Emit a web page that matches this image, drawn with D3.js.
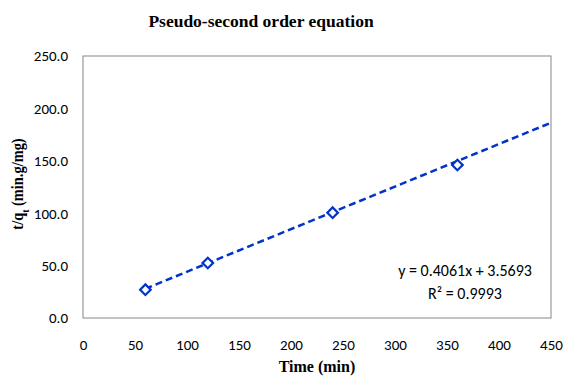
<!DOCTYPE html>
<html>
<head>
<meta charset="utf-8">
<script src="https://cdn.jsdelivr.net/npm/d3@7"></script>
<style>
  body { margin: 0; background: #fff; }
  .tick-label { font-family: Carlito, "Liberation Sans", sans-serif; font-size: 15px; fill: #000; }
</style>
</head>
<body>
<div id="chart"></div>
<script>
// data
const timeMin = [60, 120, 240, 360];
const tOverQt = [27.0, 52.5, 100.5, 146.0];
const xTicks = [0, 50, 100, 150, 200, 250, 300, 350, 400, 450];
const yTicks = [0, 50, 100, 150, 200, 250];
const slope = 0.4061, intercept = 3.5693;
const trendRange = [60, 450];

function drawChart() {
  const W = 566, H = 376;
  const margin = {top: 56, right: 15, bottom: 58, left: 83};
  const width = W - margin.left - margin.right,
        height = H - margin.top - margin.bottom;

  const svg = d3.select("#chart").append("svg")
    .attr("width", W).attr("height", H);

  const g = svg.append("g")
    .attr("transform", `translate(${margin.left},${margin.top})`);

  const x = d3.scaleLinear().domain([0, 450]).range([0, width]);
  const y = d3.scaleLinear().domain([0, 250]).range([height, 0]);

  // plot border
  g.append("rect")
    .attr("x", 0).attr("y", 0)
    .attr("width", width).attr("height", height)
    .attr("fill", "none").attr("stroke", "#868686").attr("stroke-width", 1);

  // axes (labels only, no tick marks)
  g.append("g")
    .attr("transform", `translate(0,${height})`)
    .call(d3.axisBottom(x).tickValues(xTicks).tickSize(0).tickPadding(21).tickFormat(d3.format("d")))
    .call(s => s.select(".domain").remove())
    .selectAll("text").attr("class", "tick-label");

  g.append("g")
    .call(d3.axisLeft(y).tickValues(yTicks).tickSize(0).tickPadding(15).tickFormat(d3.format(".1f")))
    .call(s => s.select(".domain").remove())
    .selectAll("text").attr("class", "tick-label");

  // trend line
  const trend = trendRange.map(t => [t, slope * t + intercept]);
  g.append("path")
    .datum(trend)
    .attr("fill", "none")
    .attr("stroke", "#0033CC")
    .attr("stroke-width", 2.5)
    .attr("stroke-dasharray", "7,4")
    .attr("d", d3.line().x(d => x(d[0])).y(d => y(d[1])));

  // markers
  const diamond = d3.symbol().type(d3.symbolSquare).size(56);
  g.selectAll(".pt")
    .data(timeMin.map((t, i) => [t, tOverQt[i]]))
    .enter().append("path")
    .attr("class", "pt")
    .attr("d", diamond)
    .attr("transform", d => `translate(${x(d[0])},${y(d[1])}) rotate(45)`)
    .attr("fill", "#fff")
    .attr("stroke", "#0033CC")
    .attr("stroke-width", 2.2);

  // equation
  const eq = svg.append("text")
    .attr("text-anchor", "middle")
    .style("font-family", "Carlito, 'Liberation Sans', sans-serif")
    .style("font-size", "16px");
  eq.append("tspan").attr("x", 465).attr("y", 276).text("y = 0.4061x + 3.5693");
  eq.append("tspan").attr("x", 465).attr("y", 299).text("R² = 0.9993");

  // title
  svg.append("text")
    .attr("x", 261).attr("y", 27)
    .attr("text-anchor", "middle")
    .style("font-family", "'Liberation Serif', serif")
    .style("font-weight", "bold")
    .style("font-size", "17.5px")
    .text("Pseudo-second order equation");

  // x axis title
  svg.append("text")
    .attr("x", 317).attr("y", 372)
    .attr("text-anchor", "middle")
    .style("font-family", "'Liberation Serif', serif")
    .style("font-weight", "bold")
    .style("font-size", "16px")
    .text("Time (min)");

  // y axis title
  const yt = svg.append("text")
    .attr("transform", "translate(23,184) rotate(-90) scale(0.9,1)")
    .attr("text-anchor", "middle")
    .style("font-family", "'Liberation Serif', serif")
    .style("font-weight", "bold")
    .style("font-size", "16px");
  yt.append("tspan").text("t/q");
  yt.append("tspan").attr("baseline-shift", "sub").style("font-size", "11px").text("t");
  yt.append("tspan").text(" (min.g/mg)");
}

drawChart();
</script>
</body>
</html>
